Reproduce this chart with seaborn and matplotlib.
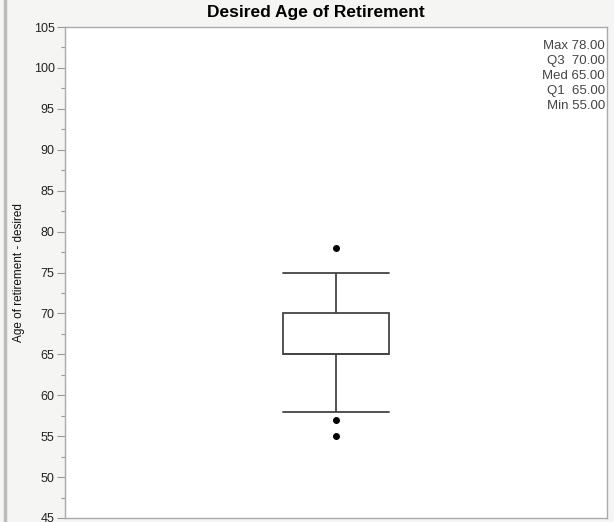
"""
Desired Age of Retirement - box plot in JMP style
"""
import matplotlib
matplotlib.use("Agg")
import matplotlib.pyplot as plt
from matplotlib.lines import Line2D
from matplotlib.ticker import MultipleLocator
import numpy as np
import pandas as pd
import seaborn as sns

# data: survey answers (quartiles Q1=65, Med=65, Q3=70, whiskers 58/75, outliers 55, 57, 78)
ages = [55, 57, 58, 60, 62, 65, 65, 65, 65, 65, 65, 65, 66, 68, 70, 70, 70, 72, 75, 75, 78]
stat_labels = ["Max", "Q3 ", "Med", "Q1 ", "Min"]
stat_values = [78.00, 70.00, 65.00, 65.00, 55.00]

title = "Desired Age of Retirement"
ylabel = "Age of retirement - desired"

sns.set_theme(style="white")
plt.rcParams["font.family"] = ["Liberation Sans", "DejaVu Sans"]

fig = plt.figure(figsize=(6.14, 5.22), dpi=100, facecolor="#f5f5f3")
ax = fig.add_axes([65 / 614, 4 / 522, 542 / 614, 491 / 522])
ax.set_facecolor("white")

df = pd.DataFrame({"age": ages})
box_w = 0.197
edge = "#444444"
sns.boxplot(
    data=df, y="age", ax=ax, width=box_w, color="white",
    linecolor=edge, linewidth=1.3,
    flierprops=dict(marker="o", markerfacecolor="black", markeredgecolor="black", markersize=4),
    capwidths=box_w,
)

ax.set_xlim(-0.5, 0.5)
ax.set_ylim(45, 105)
ax.yaxis.set_major_locator(MultipleLocator(5))
ax.yaxis.set_minor_locator(MultipleLocator(2.5))
ax.tick_params(axis="y", which="major", direction="out", length=5.5, width=0.8, pad=2,
               color="#999999", labelsize=9, labelcolor="#222222", left=True)
ax.tick_params(axis="y", which="minor", direction="out", length=3, width=0.8,
               color="#999999", left=True)
ax.set_xticks([])
ax.set_xlabel("")
ax.set_ylabel(ylabel, fontsize=8.5, color="#111111")
ax.yaxis.set_label_coords(-40 / 542, 0.5)
for sp in ax.spines.values():
    sp.set_color("#aaaaaa")
    sp.set_linewidth(1.0)

# stats summary in top right corner
stat_text = "\n".join(f"{lab} {val:.2f}" for lab, val in zip(stat_labels, stat_values))
ax.text(0.996, 0.974, stat_text, transform=ax.transAxes, ha="right", va="top",
        fontsize=9.5, color="#444444", linespacing=1.33, multialignment="right")

fig.text(316 / 614, 1 - 13 / 522, title, ha="center", va="center",
         fontsize=12.5, fontweight="bold", color="black")

# gray frame line on the left edge
fig.add_artist(Line2D([5 / 614, 5 / 614], [0, 1], color="#bbbbbb", lw=2.5))

fig.savefig("out.png", dpi=100, facecolor=fig.get_facecolor())
